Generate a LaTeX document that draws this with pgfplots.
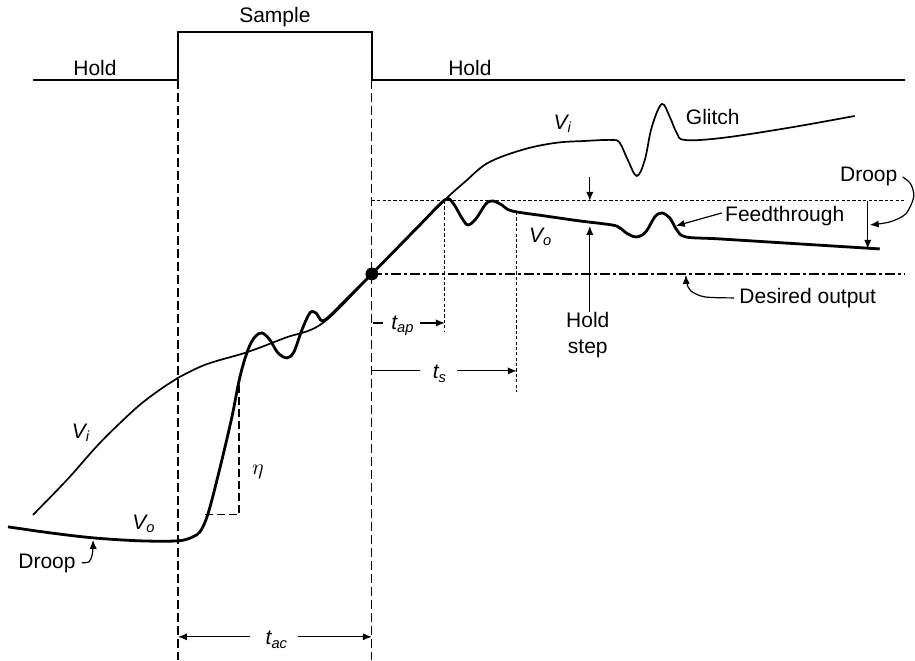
\documentclass[border=0pt]{standalone}
\usepackage{fontspec}
\setmainfont{Liberation Sans}
\usepackage{pgfplots}
\pgfplotsset{compat=1.18}
\usetikzlibrary{arrows.meta}
\begin{document}
\fontsize{10.5}{12.6}\selectfont
\begin{tikzpicture}[
  arr/.style={-{Latex[length=4.5pt,width=3.6pt]}},
]
\begin{axis}[
    width=457.5pt, height=330pt, scale only axis,
    xmin=0, xmax=915, ymin=0, ymax=660,
    y dir=reverse,
    hide axis, clip=false,
]
% frame of the picture
\addplot[draw=none] coordinates {(0,0) (915,660)};

% sample / hold control signal
\addplot[black, line width=0.65pt] coordinates {
  (33,80) (178,80) (178,32) (372,32) (372,80) (905,80)};

% sample edges
\addplot[black, line width=0.6pt, dash pattern=on 4.5pt off 2pt] coordinates {(178,80) (178,660)};
\addplot[black, line width=0.6pt, dash pattern=on 4.5pt off 2pt] coordinates {(372,80) (372,660)};

% reference levels
\addplot[black, line width=0.5pt, dash pattern=on 1.6pt off 1.1pt] coordinates {(372,201) (905,201)};
\addplot[black, line width=1pt, dash pattern=on 5pt off 1.5pt on 1.5pt off 1.5pt] coordinates {(372,274) (905,274)};
\addplot[black, line width=0.5pt, dash pattern=on 1.6pt off 1.1pt] coordinates {(445,201) (445,332)};
\addplot[black, line width=0.5pt, dash pattern=on 1.6pt off 1.1pt] coordinates {(517,212) (517,392)};

% eta construction
\addplot[black, line width=0.6pt, dash pattern=on 4pt off 2pt] coordinates {(239,385) (239,515) (203,515)};

% input V_i
\addplot[black, line width=0.85pt, smooth, tension=0.6] coordinates {
  (33,515) (67,480) (100,443) (133,411) (150,397) (167,385) (178,378)
  (200,367) (217,361) (248,352) (285,338) (323,323) (372,274) (420,225)
  (447,198) (465,182) (488,163) (522,150) (555,143) (585,141) (612,140)
  (620,143) (628,160) (637,176) (645,160) (652,127) (662,104) (670,117)
  (677,133) (685,140) (722,138) (788,128) (855,116)};

% output V_o
\addplot[black, line width=1.4pt, smooth, tension=0.55] coordinates {
  (8,527) (50,533) (93,538) (140,541) (178,541) (193,537) (200,532)
  (206,520) (212,500) (222,460) (232,417) (240,377) (248,350) (255,337)
  (262,333) (270,340) (278,353) (287,358) (294,352) (302,330) (310,313)
  (316,313) (322,321) (330,316) (350,296) (372,274) (420,225) (445,200)
  (453,203) (462,218) (468,225) (476,219) (486,204) (493,201) (502,205)
  (512,211) (545,216) (580,221) (612,225) (620,228) (628,234) (637,237)
  (646,232) (655,217) (662,213) (670,218) (677,230) (686,237) (720,239)
  (800,244) (880,249)};

% sampling instant
\addplot[black, mark=*, mark size=3pt, only marks] coordinates {(372,274)};

% timing arrows
\addplot[black, line width=0.6pt, arr] coordinates {(250,637) (178,637)};
\addplot[black, line width=0.6pt, arr] coordinates {(298,637) (372,637)};
\addplot[black, line width=0.6pt] coordinates {(373,323) (383,323)};
\addplot[black, line width=0.6pt, arr] coordinates {(420,323) (445,323)};
\addplot[black, line width=0.6pt] coordinates {(372,371) (420,371)};
\addplot[black, line width=0.6pt, arr] coordinates {(457,371) (517,371)};

% hold step
\addplot[black, line width=0.6pt, arr] coordinates {(590,177) (590,201)};
\addplot[black, line width=0.6pt, arr] coordinates {(590,312) (590,226)};

% droop (right)
\addplot[black, line width=0.6pt, arr] coordinates {(868,201) (868,249)};
\addplot[black, line width=0.6pt, smooth, arr] coordinates {
  (903,177) (911,184) (914,197) (906,214) (890,222) (870,225)};

% feedthrough
\addplot[black, line width=0.6pt, arr] coordinates {(722,213) (676,226)};

% desired output
\addplot[black, line width=0.6pt, smooth, arr] coordinates {
  (734,298) (705,297) (691,291) (687,283) (686,275)};

% droop (left)
\addplot[black, line width=0.6pt, smooth, arr] coordinates {
  (82,563) (89,562) (92,556) (93,548) (93,540)};

% labels
\node at (275,17) {Sample};
\node at (95,68) {Hold};
\node at (470,68) {Hold};
\node at (81,433) {\textit{V\textsubscript{i}}};
\node at (144,524) {\textit{V\textsubscript{o}}};
\node at (47,564) {Droop};
\node at (258,472) {$\eta$};
\node at (277,640) {\textit{t\textsubscript{ac}}};
\node at (403,326) {\textit{t\textsubscript{ap}}};
\node at (440,374) {\textit{t\textsubscript{s}}};
\node at (563,124) {\textit{V\textsubscript{i}}};
\node at (713,117) {Glitch};
\node at (541,237) {\textit{V\textsubscript{o}}};
\node[align=center, font=\fontsize{10.5}{13}\selectfont] at (588,335) {Hold\\step};
\node at (785,216) {Feedthrough};
\node at (869,177) {Droop};
\node at (808,298) {Desired output};
\end{axis}
\end{tikzpicture}
\end{document}
